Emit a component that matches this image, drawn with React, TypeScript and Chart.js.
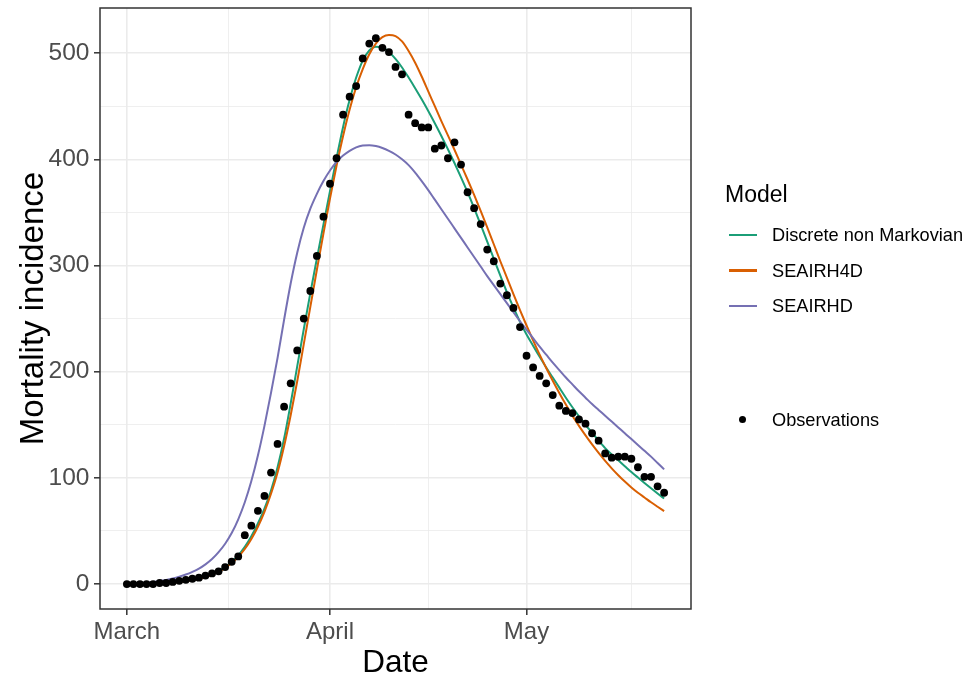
import React, { useEffect, useRef } from 'react';
import { Chart, registerables } from 'chart.js';

Chart.register(...registerables);

const FONT = "'Liberation Sans', Arial, Helvetica, sans-serif";

// Day index 0 = 1 March
const monthTickDays = [0, 31, 61];
const monthTickLabels = ['March', 'April', 'May'];
const minorTickDays = [15.5, 46, 77];
const yMajorTicks = [0, 100, 200, 300, 400, 500];
const yMinorTicks = [50, 150, 250, 350, 450];

const observations = [
  0, 0, 0, 0, 0, 1, 1, 2, 3, 4,
  5, 6, 8, 10, 12, 16, 21, 26, 46, 55,
  69, 83, 105, 132, 167, 189, 220, 250, 276, 309,
  346, 377, 401, 442, 459, 469, 495, 509, 514, 505,
  501, 487, 480, 442, 434, 430, 430, 410, 413, 401,
  416, 395, 369, 354, 339, 315, 304, 283, 272, 260,
  242, 215, 204, 196, 189, 178, 168, 163, 161, 155,
  151, 142, 135, 123, 119, 120, 120, 118, 110, 101,
  101, 92, 86,
];

const discreteNonMarkovian = [
  0.1, 0.15, 0.2, 0.3, 0.5, 0.8, 1.2, 1.7, 2.4, 3.3,
  4.4, 5.8, 7.6, 9.8, 12.6, 16.2, 21, 27, 35, 45,
  57, 71, 88, 110, 137, 170, 205, 240, 274, 306.5,
  338.5, 370, 401, 430.5, 456, 477, 493, 502.5, 506, 505.5,
  501, 494.5, 486.5, 477, 467, 456.5, 445.5, 434, 422, 409.5,
  396.5, 383, 369, 354, 338.5, 322.5, 306.5, 290.5, 275, 260.5,
  247, 235, 224.5, 214, 204, 194.5, 185, 175.5, 166.5, 158,
  150, 142.5, 135, 128, 122, 116.5, 111, 105.5, 100.3, 95.2,
  90.2, 85.3, 80.5,
];

const seairh4d = [
  0.05, 0.1, 0.15, 0.25, 0.4, 0.6, 0.9, 1.3, 1.9, 2.6,
  3.6, 4.9, 6.6, 8.8, 11.6, 15.2, 19.8, 25.6, 33, 42.5,
  54, 68, 85, 105, 130, 159, 191, 226, 261, 296,
  330, 363, 394, 422, 447, 468, 485, 499, 509, 515,
  517, 516, 511, 502, 491, 478, 464, 450, 436, 422.5,
  409, 395, 381, 366.5, 351.5, 336, 320, 304, 288.5, 273,
  258, 243.5, 229.5, 216, 203.5, 191.5, 180, 169, 158.5, 149,
  140, 131.5, 123.5, 116, 109, 102.5, 96.5, 91, 86, 81.5,
  77, 72.8, 68.7,
];

const seairhd = [
  0.5, 0.7, 1, 1.4, 2, 2.8, 3.9, 5.3, 7, 9,
  11.5, 14.5, 18.5, 23.5, 30, 38, 48, 61, 77, 97,
  121, 149, 180, 213, 249, 283, 312, 335.5, 353.5, 367.5,
  379.5, 389.5, 397.5, 403.5, 408, 411.3, 413, 413.3, 412.5, 410.7,
  408, 404.5, 400, 394.5, 387.5, 379.5, 371, 362, 353, 344,
  335, 326, 317, 308, 299, 290, 281.5, 273, 264.5, 256,
  247.5, 239.5, 231.5, 223.5, 216, 208.5, 201.5, 194.5, 188, 181.5,
  175.5, 169.5, 164, 158.5, 153, 147.5, 142, 136.5, 131, 125.5,
  120, 114, 108,
];

const seriesNames = ['Discrete non Markovian', 'SEAIRH4D', 'SEAIRHD'];
const seriesColors = ['#1B9E77', '#D95F02', '#7570B3'];

const toXY = (vals: number[]) => vals.map((v, i) => ({ x: i, y: v }));

const borderPlugin = {
  id: 'panelBorder',
  afterDatasetsDraw(chart: any) {
    const { ctx, chartArea } = chart;
    ctx.save();
    ctx.strokeStyle = '#333333';
    ctx.lineWidth = 1.5;
    ctx.strokeRect(chartArea.left, chartArea.top, chartArea.right - chartArea.left, chartArea.bottom - chartArea.top);
    ctx.restore();
  },
};

export default function App() {
  const canvasRef = useRef<HTMLCanvasElement | null>(null);

  useEffect(() => {
    if (!canvasRef.current) return;
    const isMajorX = (v: number) => monthTickDays.includes(v);
    const isMajorY = (v: number) => yMajorTicks.includes(v);

    const lineDatasets = [discreteNonMarkovian, seairh4d, seairhd].map((vals, i) => ({
      label: seriesNames[i],
      data: toXY(vals),
      showLine: true,
      borderColor: seriesColors[i],
      backgroundColor: seriesColors[i],
      borderWidth: 2,
      pointRadius: 0,
      cubicInterpolationMode: 'monotone' as const,
      order: 3 - i,
    }));

    const chart = new Chart(canvasRef.current, {
      type: 'scatter',
      data: {
        datasets: [
          {
            label: 'Observations',
            data: toXY(observations),
            pointRadius: 3.9,
            pointBackgroundColor: '#000000',
            pointBorderWidth: 0,
            borderColor: '#000000',
            backgroundColor: '#000000',
            showLine: false,
            order: 0,
          } as any,
          ...lineDatasets,
        ],
      },
      options: {
        animation: false,
        responsive: false,
        maintainAspectRatio: false,
        devicePixelRatio: 1,
        layout: { padding: { left: 0, right: 274, top: 8, bottom: 0 } },
        plugins: { legend: { display: false }, tooltip: { enabled: false } },
        scales: {
          x: {
            type: 'linear',
            min: -4.1,
            max: 86.1,
            afterFit: (s: any) => {
              s.height = 71;
              s.paddingLeft = 0;
              s.paddingRight = 0;
            },
            afterBuildTicks: (s: any) => {
              s.ticks = [...monthTickDays, ...minorTickDays].sort((a, b) => a - b).map((v) => ({ value: v }));
            },
            ticks: {
              autoSkip: false,
              maxRotation: 0,
              padding: 3,
              color: '#4D4D4D',
              font: { size: 24, family: FONT },
              callback: (v: any) => {
                const idx = monthTickDays.indexOf(Number(v));
                return idx >= 0 ? monthTickLabels[idx] : '';
              },
            },
            grid: {
              color: '#EBEBEB',
              lineWidth: (c: any) => (c.tick && isMajorX(c.tick.value) ? 1.6 : 0.8),
              tickLength: 6,
              tickColor: (c: any) => (c.tick && isMajorX(c.tick.value) ? '#333333' : 'rgba(0,0,0,0)'),
              tickWidth: 1.5,
            } as any,
            border: { display: false },
            title: {
              display: true,
              text: 'Date',
              color: '#000000',
              font: { size: 31.5, family: FONT },
              padding: { top: 0, bottom: -2 },
            },
          },
          y: {
            type: 'linear',
            min: -23.5,
            max: 542.5,
            afterFit: (s: any) => {
              s.width = 100;
              s.paddingTop = 0;
              s.paddingBottom = 0;
            },
            afterBuildTicks: (s: any) => {
              s.ticks = [...yMajorTicks, ...yMinorTicks].sort((a, b) => a - b).map((v) => ({ value: v }));
            },
            ticks: {
              autoSkip: false,
              padding: 4.5,
              color: '#4D4D4D',
              font: { size: 24.5, family: FONT },
              callback: (v: any) => (isMajorY(Number(v)) ? String(v) : ''),
            },
            grid: {
              color: '#EBEBEB',
              lineWidth: (c: any) => (c.tick && isMajorY(c.tick.value) ? 1.6 : 0.8),
              tickLength: 6,
              tickColor: (c: any) => (c.tick && isMajorY(c.tick.value) ? '#333333' : 'rgba(0,0,0,0)'),
              tickWidth: 1.5,
            } as any,
            border: { display: false },
            title: {
              display: true,
              text: 'Mortality incidence',
              color: '#000000',
              font: { size: 33, family: FONT },
              padding: { top: 14, bottom: 0 },
            },
          },
        },
      },
      plugins: [borderPlugin],
    });
    return () => chart.destroy();
  }, []);

  const textStyle = (left: number, cy: number, size: number): React.CSSProperties => ({
    position: 'absolute',
    left,
    top: cy - 15,
    height: 30,
    lineHeight: '30px',
    fontSize: size,
    fontFamily: FONT,
    color: '#000000',
    whiteSpace: 'nowrap',
  });

  const entryY = [235, 270.6, 305.8];

  return (
    <div style={{ position: 'absolute', left: 0, top: 0, width: 965, height: 680, background: '#ffffff', overflow: 'hidden' }}>
      <canvas ref={canvasRef} width={965} height={680} style={{ position: 'absolute', left: 0, top: 0, width: 965, height: 680 }} />
      <div style={textStyle(725, 194, 23)}>Model</div>
      {seriesNames.map((name, i) => (
        <React.Fragment key={name}>
          <div style={{ position: 'absolute', left: 728.5, top: entryY[i] - 1.25, width: 28, height: 2.5, background: seriesColors[i] }} />
          <div style={textStyle(772, entryY[i], 18.2)}>{name}</div>
        </React.Fragment>
      ))}
      <div style={{ position: 'absolute', left: 742.6 - 3.7, top: 419.5 - 3.7, width: 7.4, height: 7.4, borderRadius: '50%', background: '#000000' }} />
      <div style={textStyle(772, 419.5, 18.2)}>Observations</div>
    </div>
  );
}
